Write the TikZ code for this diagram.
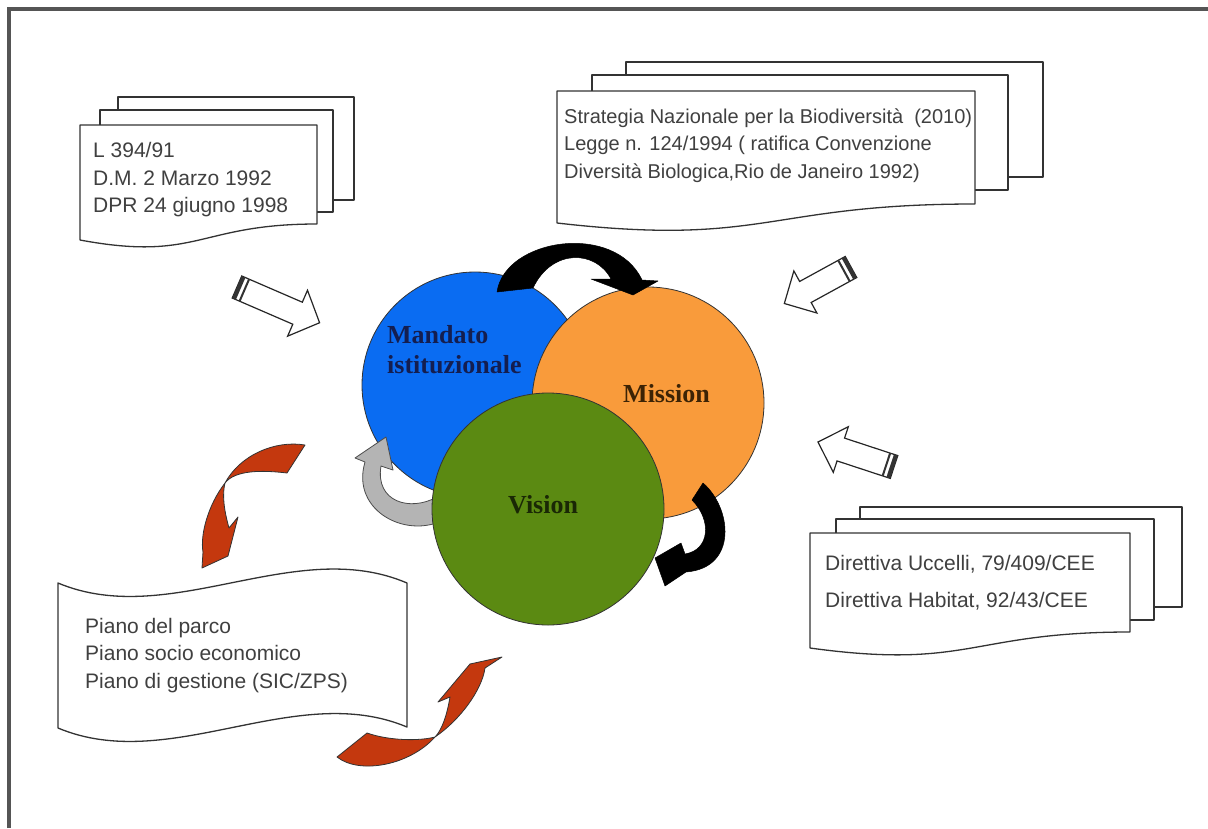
\documentclass[tikz,border=0pt]{standalone}
\usepackage{fontspec}
\setmainfont{Liberation Serif}
\newfontfamily\arialf{Liberation Sans}
\definecolor{blueC}{HTML}{0A6CF2}
\definecolor{orangeC}{HTML}{F99B3B}
\definecolor{greenC}{HTML}{5B8A12}
\definecolor{redA}{HTML}{C4380E}
\definecolor{grayA}{HTML}{B4B4B4}
\definecolor{txtgray}{HTML}{404040}
\definecolor{frameC}{HTML}{555555}
\definecolor{lblblue}{HTML}{141E50}
\definecolor{lblbrown}{HTML}{3C2305}
\definecolor{lblgreen}{HTML}{1A2805}
\tikzset{
  page/.style={draw=black!80, line width=1.3pt, fill=white, line join=round},
  doctext/.style={font=\arialf\fontsize{21}{25}\selectfont, text=txtgray, inner sep=0pt, anchor=base west},
  doctextb/.style={doctext, font=\arialf\fontsize{20}{24}\selectfont},
  circ/.style={circle, draw=black!80, line width=0.8pt, inner sep=0pt},
  lbl/.style={font=\bfseries\fontsize{26}{30}\selectfont, inner sep=0pt, anchor=base west},
  barrow/.style={draw=black!85, line width=1.2pt, fill=white, line join=miter},
  stripe/.style={fill=black!80},
  blk/.style={fill=black, draw=black, line width=0.5pt, line join=round},
  redarrow/.style={fill=redA, draw=black!80, line width=0.8pt, line join=round},
  grayarrow/.style={fill=grayA, draw=black!70, line width=0.8pt, line join=round},
  frame/.style={draw=frameC, line width=4pt}
}
\begin{document}
\begin{tikzpicture}[x=1pt,y=-1pt]
\useasboundingbox (0,0) rectangle (1208,828);
\fill[white] (0,0) rectangle (1208,828);
% frame
\draw[frame] (9,828) -- (9,9) -- (1208,9);

% ---- document stack 1 (top left)
\draw[page] (118,97) rectangle (354,200);
\draw[page] (100,110) rectangle (333,212);
\draw[page] (80,125) -- (317,125) -- (317,224) .. controls (198,224) and (198,262) .. (80,240) -- cycle;
\node[doctext] (d1a) at (93,157) {L 394/91};
\node[doctext] (d1b) at (93,185) {D.M. 2 Marzo 1992};
\node[doctext] (d1c) at (93,212) {DPR 24 giugno 1998};

% ---- document stack 2 (top right)
\draw[page] (626,62) rectangle (1043,177);
\draw[page] (592,75) rectangle (1008,190);
\draw[page] (557,91) -- (975,91) -- (975,204) .. controls (766,204) and (766,247) .. (557,223) -- cycle;
\node[doctextb] (d2a) at (564,123) {Strategia Nazionale per la Biodiversità\ \ (2010)};
\node[doctextb] (d2b) at (564,150) {Legge n. 124/1994 ( ratifica Convenzione};
\node[doctextb] (d2c) at (564,178) {Diversità Biologica,Rio de Janeiro 1992)};

% ---- document stack 3 (right)
\draw[page] (860,507) rectangle (1182,607);
\draw[page] (836,519) rectangle (1154,620);
\draw[page] (810,533) -- (1130,533) -- (1130,632) .. controls (970,632) and (970,670) .. (810,648) -- cycle;
\node[doctext] (d3a) at (825,570) {Direttiva Uccelli, 79/409/CEE};
\node[doctext] (d3b) at (825,607) {Direttiva Habitat, 92/43/CEE};

% ---- wave (bottom left)
\draw[page] (58,583) .. controls (170,630) and (295,535) .. (407,583) -- (407,727)
  .. controls (295,680) and (170,775) .. (58,728) -- cycle;
\node[doctext] (d4a) at (85,633) {Piano del parco};
\node[doctext] (d4b) at (85,660) {Piano socio economico};
\node[doctext] (d4c) at (85,688) {Piano di gestione (SIC/ZPS)};

% ---- circles
\node[circ, fill=blueC, minimum size=226pt] (mandato) at (475,385) {};
\node[circ, fill=orangeC, minimum size=232pt] (mission) at (648,403) {};
% gray curved arrow (over blue, under green)
\draw[grayarrow] (437,497) .. controls (410,512) and (375,502) .. (381,466) -- (393,470) -- (386,437)
  -- (355,458) -- (365,462) .. controls (350,512) and (410,542) .. (449,517) -- cycle;
\node[circ, fill=greenC, minimum size=232pt] (vision) at (548,509) {};

\node[lbl, text=lblblue] (l1a) at (387,343) {Mandato};
\node[lbl, text=lblblue] (l1b) at (387,373) {istituzionale};
\node[lbl, text=lblbrown] (l2) at (623,402) {Mission};
\node[lbl, text=lblgreen] (l3) at (508,513) {Vision};

% ---- black curved arrows
\draw[blk] (497,292) .. controls (505,238) and (615,222) .. (642,280) -- (658,281) -- (633,295)
  -- (591,279) -- (611,279) .. controls (596,250) and (552,248) .. (533,288) -- cycle;
\draw[blk] (703,483) .. controls (732,508) and (738,568) .. (686,572) -- (665,586) -- (655,558)
  -- (681,543) -- (685,554) .. controls (710,550) and (712,520) .. (692,500) -- cycle;

% ---- red twisted arrows
\draw[redarrow] (305,445) .. controls (275,440) and (240,455) .. (225,483)
  .. controls (208,505) and (200,535) .. (203,552) -- (202,568) -- (228,556) -- (238,517) -- (229,528)
  .. controls (224,510) and (222,495) .. (225,483)
  .. controls (235,470) and (262,470) .. (287,473) -- cycle;
\draw[redarrow] (337,757) .. controls (360,775) and (410,765) .. (435,737)
  .. controls (460,720) and (482,690) .. (485,668) -- (502,657) -- (470,664) -- (438,702) -- (450,697)
  .. controls (447,715) and (442,730) .. (435,737)
  .. controls (420,741) and (390,741) .. (367,733) -- cycle;

% ---- white block arrows with striped tails
\begin{scope}[shift={(237,287)}, rotate=-23.4]
  \draw[barrow] (0,-12) -- (66,-12) -- (66,-25) -- (90,0) -- (66,25) -- (66,12) -- (0,12) -- cycle;
  \fill[stripe] (0,-12) rectangle (4,12);
  \fill[stripe] (7,-12) rectangle (9,12);
\end{scope}
\begin{scope}[shift={(851,267)}, rotate=208.7]
  \draw[barrow] (0,-12) -- (52,-12) -- (52,-24) -- (76,0) -- (52,24) -- (52,12) -- (0,12) -- cycle;
  \fill[stripe] (0,-12) rectangle (4,12);
  \fill[stripe] (7,-12) rectangle (9,12);
\end{scope}
\begin{scope}[shift={(894,467)}, rotate=161.8]
  \draw[barrow] (0,-12) -- (56,-12) -- (56,-24) -- (80,0) -- (56,24) -- (56,12) -- (0,12) -- cycle;
  \fill[stripe] (0,-12) rectangle (4,12);
  \fill[stripe] (7,-12) rectangle (9,12);
\end{scope}
\end{tikzpicture}
\end{document}
